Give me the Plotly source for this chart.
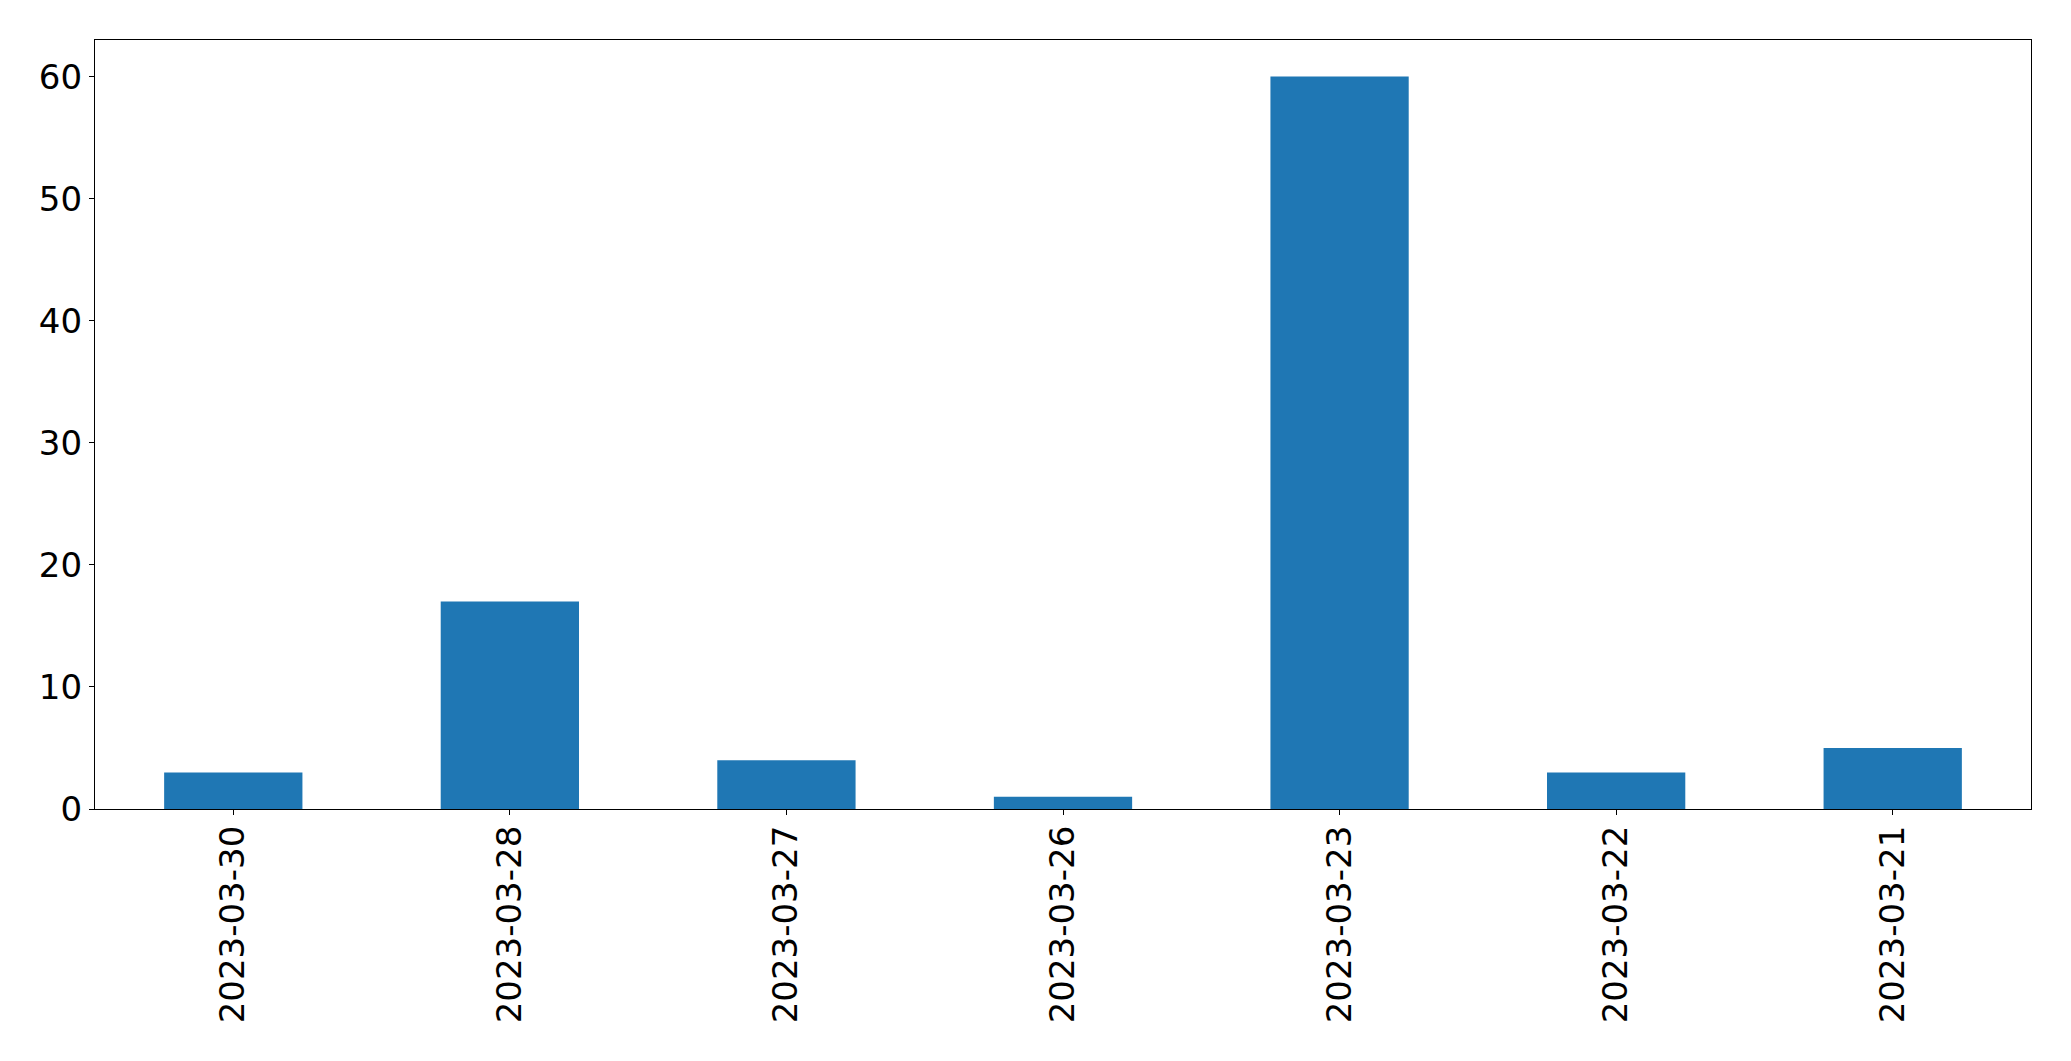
import plotly.graph_objects as go

dates = ["2023-03-30", "2023-03-28", "2023-03-27", "2023-03-26", "2023-03-23", "2023-03-22", "2023-03-21"]
counts = [3, 17, 4, 1, 60, 3, 5]
y_ticks = [0, 10, 20, 30, 40, 50, 60]

fig = go.Figure(go.Bar(x=list(range(len(dates))), y=counts, width=0.5,
                       marker=dict(color="#1f77b4", line=dict(width=0))))

fig.update_layout(
    width=2071, height=1061,
    margin=dict(l=94.5, r=40, t=39.5, b=252, pad=0),
    paper_bgcolor="white", plot_bgcolor="white",
    font=dict(family="DejaVu Sans", size=34, color="black"),
    showlegend=False,
)
fig.update_xaxes(
    range=[-0.5, len(dates) - 0.5],
    tickmode="array", tickvals=list(range(len(dates))), ticktext=dates,
    tickangle=-90, ticks="outside", ticklen=5, tickwidth=1.3, tickcolor="black",
    showline=True, linecolor="black", linewidth=1.3, mirror=True,
    showgrid=False, zeroline=False, automargin=False, ticklabelstandoff=-3,
)
fig.update_yaxes(
    range=[0, 63],
    tickmode="array", tickvals=y_ticks,
    ticks="outside", ticklen=5, tickwidth=1.3, tickcolor="black",
    showline=True, linecolor="black", linewidth=1.3, mirror=True,
    showgrid=False, zeroline=False, automargin=False, ticklabelstandoff=0,
)

fig.write_html("out.html", config={"displayModeBar": False},
               post_script="document.body.style.margin='0';document.body.style.overflow='hidden';")
